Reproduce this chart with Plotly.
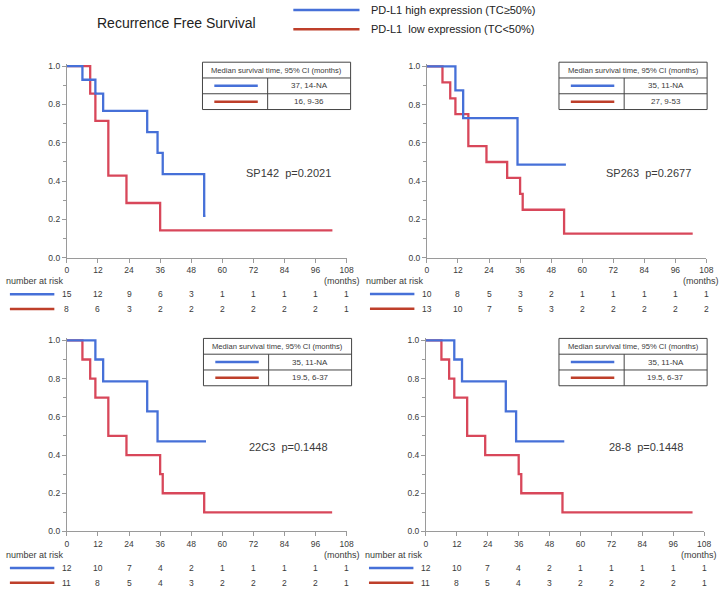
import plotly.graph_objects as go

W, H = 723, 593
BLUE = "#4670D8"
RED = "#D8475A"
RED_LEG = "#BE3F2A"
AX = "#9a9a9a"
TXT = "#3a3a3a"
FONT = "Arial"

# ---- data ----
months = [0, 12, 24, 36, 48, 60, 72, 84, 96, 108]

sp142_hi_t = [0, 6, 11, 14, 31, 35, 37, 53, 53.5]
sp142_hi_s = [1, 0.929, 0.857, 0.767, 0.656, 0.547, 0.437, 0.219, 0.219]
sp142_lo_t = [0, 9, 11, 16, 23, 36, 102.5]
sp142_lo_s = [1, 0.857, 0.714, 0.429, 0.286, 0.143, 0.143]

sp263_hi_t = [0, 11, 14, 35, 53.7]
sp263_hi_s = [1, 0.875, 0.729, 0.486, 0.486]
sp263_lo_t = [0, 6, 9, 11, 16, 23, 31, 36, 37, 53, 102.7]
sp263_lo_s = [1, 0.917, 0.833, 0.75, 0.583, 0.5, 0.417, 0.333, 0.25, 0.125, 0.125]

c22c3_hi_t = [0, 11, 14, 31, 35, 53.7]
c22c3_hi_s = [1, 0.9, 0.786, 0.629, 0.471, 0.471]
c22c3_lo_t = [0, 6, 9, 11, 16, 23, 36, 37, 53, 102.4]
c22c3_lo_s = [1, 0.9, 0.8, 0.7, 0.5, 0.4, 0.3, 0.2, 0.1, 0.1]

c288_hi_t = [0, 11, 14, 31, 35, 53.7]
c288_hi_s = [1, 0.9, 0.786, 0.629, 0.471, 0.471]
c288_lo_t = [0, 6, 9, 11, 16, 23, 36, 37, 53, 103.5]
c288_lo_s = [1, 0.9, 0.8, 0.7, 0.5, 0.4, 0.3, 0.2, 0.1, 0.1]

risk_sp142_hi = [15, 12, 9, 6, 3, 1, 1, 1, 1, 1]
risk_sp142_lo = [8, 6, 3, 2, 2, 2, 2, 2, 2, 1]
risk_sp263_hi = [10, 8, 5, 3, 2, 1, 1, 1, 1, 1]
risk_sp263_lo = [13, 10, 7, 5, 3, 2, 2, 2, 2, 2]
risk_22c3_hi = [12, 10, 7, 4, 2, 1, 1, 1, 1, 1]
risk_22c3_lo = [11, 8, 5, 4, 3, 2, 2, 2, 2, 1]
risk_288_hi = [12, 10, 7, 4, 2, 1, 1, 1, 1, 1]
risk_288_lo = [11, 8, 5, 4, 3, 2, 2, 2, 2, 1]

labels = ["SP142  p=0.2021", "SP263  p=0.2677", "22C3  p=0.1448", "28-8  p=0.1448"]
median_hi = ["37, 14-NA", "35, 11-NA", "35, 11-NA", "35, 11-NA"]
median_lo = ["16, 9-36", "27, 9-53", "19.5, 6-37", "19.5, 6-37"]
legend_hi = "PD-L1 high expression (TC\u226550%)"
legend_lo = "PD-L1  low expression (TC<50%)"
title = "Recurrence Free Survival"


def px(x):
    return x / W


def py(y):
    return 1 - y / H


YTOP = 1.012
# panel geometry in pixels: x at 0 months, x at 108 months, y at 1.0, y at 0.0
panels = [
    dict(x0=65.7, x1=349.0, y1=64.0, y0=258.3, tab=(203, 60)),
    dict(x0=430.3, x1=713.3, y1=64.3, y0=258.0, tab=(564, 60)),
    dict(x0=65.7, x1=349.0, y1=342.0, y0=535.7, tab=(204, 340)),
    dict(x0=429.3, x1=711.0, y1=342.0, y0=535.7, tab=(564, 340)),
]
curves = [
    (sp142_hi_t, sp142_hi_s, sp142_lo_t, sp142_lo_s, risk_sp142_hi, risk_sp142_lo),
    (sp263_hi_t, sp263_hi_s, sp263_lo_t, sp263_lo_s, risk_sp263_hi, risk_sp263_lo),
    (c22c3_hi_t, c22c3_hi_s, c22c3_lo_t, c22c3_lo_s, risk_22c3_hi, risk_22c3_lo),
    (c288_hi_t, c288_hi_s, c288_lo_t, c288_lo_s, risk_288_hi, risk_288_lo),
]

fig = go.Figure()
ann = []
shapes = []
lay = {}


def hline(x0, x1, y, color, width):
    shapes.append(dict(type="line", xref="paper", yref="paper", x0=px(x0), x1=px(x1),
                       y0=py(y), y1=py(y), line=dict(color=color, width=width)))


def vline(x, y0, y1, color, width):
    shapes.append(dict(type="line", xref="paper", yref="paper", x0=px(x), x1=px(x),
                       y0=py(y0), y1=py(y1), line=dict(color=color, width=width)))


def text(x, y, s, size, anchor="center", xref="paper", color=TXT):
    ann.append(dict(x=x if xref != "paper" else px(x), y=py(y), xref=xref, yref="paper",
                    text=s, showarrow=False, xanchor=anchor, yanchor="middle",
                    font=dict(family=FONT, size=size, color=color)))


for i, (p, c) in enumerate(zip(panels, curves)):
    n = "" if i == 0 else str(i + 1)
    ht, hs, lt, ls, rh, rl = c
    fig.add_trace(go.Scatter(x=lt, y=ls, mode="lines", line=dict(color=RED, width=2.3, shape="hv"),
                             xaxis="x" + n, yaxis="y" + n, showlegend=False, hoverinfo="skip"))
    fig.add_trace(go.Scatter(x=ht, y=hs, mode="lines", line=dict(color=BLUE, width=2.3, shape="hv"),
                             xaxis="x" + n, yaxis="y" + n, showlegend=False, hoverinfo="skip"))
    ytop_px = p["y0"] - (p["y0"] - p["y1"]) * YTOP
    lay["xaxis" + n] = dict(domain=[px(p["x0"]), px(p["x1"])], anchor="y" + n, range=[0, 108],
                            tickvals=months, ticks="outside", ticklen=4, tickcolor=AX,
                            showline=True, linecolor=AX, linewidth=1, showgrid=False, zeroline=False,
                            tickfont=dict(family=FONT, size=8.5, color=TXT), fixedrange=True)
    lay["yaxis" + n] = dict(domain=[py(p["y0"]), py(ytop_px)], anchor="x" + n, range=[0, YTOP],
                            tickvals=[0, 0.2, 0.4, 0.6, 0.8, 1.0], tickformat=".1f",
                            ticks="outside", ticklen=4, tickcolor=AX,
                            minor=dict(tickvals=[0.1, 0.3, 0.5, 0.7, 0.9], ticks="outside",
                                       ticklen=2.5, tickcolor=AX),
                            showline=True, linecolor=AX, linewidth=1, showgrid=False, zeroline=False,
                            tickfont=dict(family=FONT, size=8.5, color=TXT), fixedrange=True)

    # p-value label
    ann.append(dict(x=85.5, y=0.44, xref="x" + n, yref="y" + n, text=labels[i], showarrow=False,
                    font=dict(family=FONT, size=11, color=TXT)))

    # median survival table
    tx, ty = p["tab"]
    tw, rh_ = 150, 16
    shapes.append(dict(type="rect", xref="paper", yref="paper", x0=px(tx), x1=px(tx + tw),
                       y0=py(ty), y1=py(ty + 3 * rh_), line=dict(color="#444", width=1),
                       fillcolor="white"))
    hline(tx, tx + tw, ty + rh_, "#444", 1)
    hline(tx, tx + tw, ty + 2 * rh_, "#444", 1)
    vline(tx + 66, ty + rh_, ty + 3 * rh_, "#444", 1)
    hline(tx + 12, tx + 56, ty + 1.5 * rh_, BLUE, 2.5)
    hline(tx + 12, tx + 56, ty + 2.5 * rh_, RED_LEG, 2.5)
    text(tx + tw / 2, ty + rh_ / 2, "Median survival time, 95% CI (months)", 7.6)
    text(tx + 108, ty + 1.5 * rh_, median_hi[i], 8)
    text(tx + 108, ty + 2.5 * rh_, median_lo[i], 8)

    # number at risk
    off = p["x0"] - 65.7
    ry = p["y0"] + 24
    text(2 + off, ry, "number at risk", 9, anchor="left")
    text(p["x1"] - 5, ry, "(months)", 9)
    hline(8 + off, 53 + off, ry + 13, BLUE, 2.5)
    hline(8 + off, 53 + off, ry + 28, RED_LEG, 2.5)
    for m, a, b in zip(months, rh, rl):
        text(m, ry + 13, str(a), 8.5, xref="x" + n)
        text(m, ry + 28, str(b), 8.5, xref="x" + n)

# title and legend
text(177, 20.5, title, 14, color="#222")
hline(295, 362, 7, BLUE, 2.5)
hline(295, 362, 26.5, RED_LEG, 2.5)
text(372, 7, legend_hi, 11, anchor="left", color="#222")
text(372, 26.5, legend_lo, 11, anchor="left", color="#222")

fig.update_layout(width=W, height=H, margin=dict(l=0, r=0, t=0, b=0),
                  paper_bgcolor="white", plot_bgcolor="white",
                  annotations=ann, shapes=shapes, **lay)
fig.write_html("out.html", config={"displayModeBar": False},
               post_script="document.body.style.margin='0px';")
